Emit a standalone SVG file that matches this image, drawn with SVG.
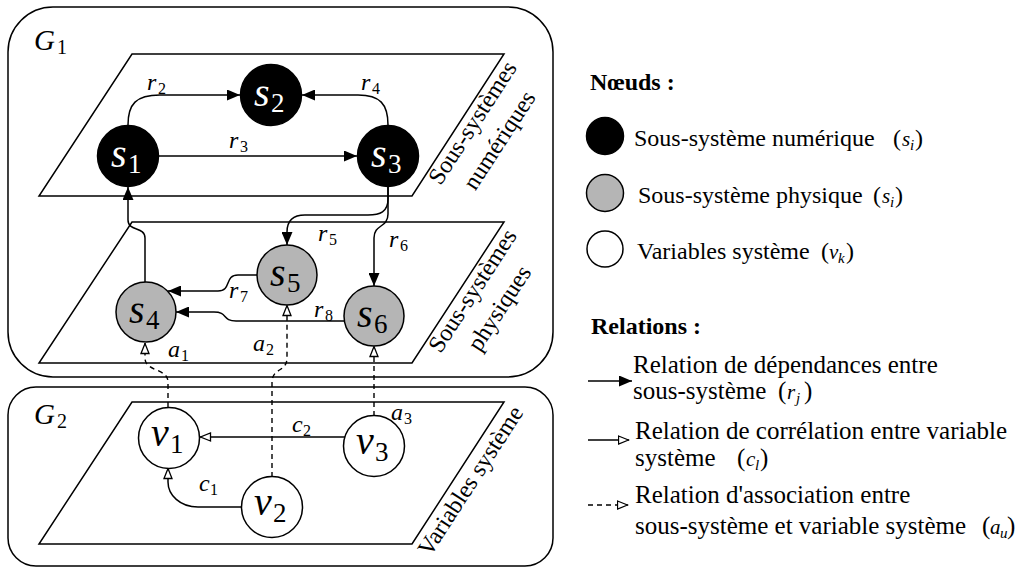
<svg xmlns="http://www.w3.org/2000/svg" width="1020" height="569" viewBox="0 0 1020 569">
<style>
.bx{fill:none;stroke:#000;stroke-width:1.5}
.pl{fill:none;stroke:#000;stroke-width:1.5}
.ln{fill:none;stroke:#000;stroke-width:1.5}
.ds{fill:none;stroke:#000;stroke-width:1.4;stroke-dasharray:5 4}
.num{fill:#000;stroke:#000;stroke-width:1.5}
.phy{fill:#b5b5b5;stroke:#000;stroke-width:1.5}
.var{fill:#fff;stroke:#000;stroke-width:1.5}
text{font-family:"Liberation Serif",serif;fill:#000}
.nl{font-style:italic;font-size:40px}
.ns{font-style:normal;font-size:27px}
.w{fill:#fff}
.el{font-style:italic;font-size:24px}
.es{font-style:normal;font-size:16px}
.gl{font-style:italic;font-size:29px}
.gs{font-style:normal;font-size:20px}
.pt{font-size:24px}
.hd{font-size:24px;font-weight:bold}
.lg{font-size:24px}
.lr{font-size:25px}
.mi{font-style:italic;font-size:21px}
.ms{font-style:italic;font-size:15px}
</style>
<defs>
<marker id="fa" viewBox="0 0 13 11" refX="13" refY="5.5" markerWidth="13" markerHeight="11" markerUnits="userSpaceOnUse" orient="auto">
<path d="M0,0 L13,5.5 L0,11 z" fill="#000"/>
</marker>
<marker id="oa" viewBox="0 0 12 10" refX="11.5" refY="5" markerWidth="12" markerHeight="10" markerUnits="userSpaceOnUse" orient="auto">
<path d="M1,1 L11,5 L1,9 z" fill="#fff" stroke="#000" stroke-width="1.3"/>
</marker>
</defs>

<g id="G1">
<rect class="bx" x="8" y="7" width="545" height="370" rx="45" ry="45"/>
<text class="gl" x="34" y="50">G<tspan class="gs" x="57" y="54">1</tspan></text>
</g>
<g id="G2">
<rect class="bx" x="8" y="387" width="545" height="179" rx="28" ry="28"/>
<text class="gl" x="34" y="424">G<tspan class="gs" x="57" y="428">2</tspan></text>
</g>

<g id="plane-numeriques">
<polygon class="pl" points="132,54 504,54 412,196 39,196"/>
<text class="pt" text-anchor="middle" transform="translate(479,127) rotate(-57)"><tspan x="0" y="0">Sous-systèmes</tspan><tspan x="0" y="32">numériques</tspan></text>
</g>
<g id="plane-physiques">
<polygon class="pl" points="132,222 504,222 412,363 39,363"/>
<text class="pt" text-anchor="middle" transform="translate(479,295) rotate(-57)"><tspan x="0" y="0">Sous-systèmes</tspan><tspan x="0" y="32">physiques</tspan></text>
</g>
<g id="plane-variables">
<polygon class="pl" points="132,402 504,402 412,544 39,544"/>
<text class="pt" text-anchor="middle" transform="translate(477,485) rotate(-57)">Variables système</text>
</g>

<g id="connectors">
<path id="r1" class="ln" d="M145,282 L145,238 C145,226 128,232 128,220 L128,187" marker-end="url(#fa)"/>
<path id="r2" class="ln" d="M128,125 C128,104 136,95 160,95 L240,95" marker-end="url(#fa)"/>
<path id="r3" class="ln" d="M159,156 L357,156" marker-end="url(#fa)"/>
<path id="r4" class="ln" d="M388,125 C388,104 380,95 358,95 L302,95" marker-end="url(#fa)"/>
<path id="r5" class="ln" d="M388,187 L388,199 C388,212 380,215 368,215 L305,215 C293,215 287,220 287,232 L287,245" marker-end="url(#fa)"/>
<path id="r6" class="ln" d="M388,187 L388,214 C388,228 374,224 374,238 L374,286" marker-end="url(#fa)"/>
<path id="r7" class="ln" d="M257,275 L238,275 C224,275 232,291 218,291 L168,291" marker-end="url(#fa)"/>
<path id="r8" class="ln" d="M344,321 L236,321 C222,321 228,312 214,312 L176,312" marker-end="url(#fa)"/>
<path id="a1" class="ds" d="M168,407 L168,382 C168,368 145,372 145,358 L145,343" marker-end="url(#oa)"/>
<path id="a2" class="ds" d="M272,477 L272,382 C272,368 287,372 287,358 L287,305" marker-end="url(#oa)"/>
<path id="a3" class="ds" d="M374,416 L374,346" marker-end="url(#oa)"/>
<path id="c1" class="ln" d="M241,507 L198,507 C180,507 168,495 168,482 L168,468" marker-end="url(#oa)"/>
<path id="c2" class="ln" d="M345,437 L200,437" marker-end="url(#oa)"/>
<text class="el" x="147" y="90">r<tspan class="es" x="158" y="94">2</tspan></text>
<text class="el" x="229" y="148">r<tspan class="es" x="240" y="152">3</tspan></text>
<text class="el" x="361" y="90">r<tspan class="es" x="372" y="94">4</tspan></text>
<text class="el" x="318" y="241">r<tspan class="es" x="329" y="245">5</tspan></text>
<text class="el" x="389" y="247">r<tspan class="es" x="400" y="251">6</tspan></text>
<text class="el" x="229" y="298">r<tspan class="es" x="240" y="302">7</tspan></text>
<text class="el" x="314" y="317">r<tspan class="es" x="325" y="321">8</tspan></text>
<text class="el" x="168" y="357">a<tspan class="es" x="181" y="361">1</tspan></text>
<text class="el" x="253" y="351">a<tspan class="es" x="266" y="355">2</tspan></text>
<text class="el" x="391" y="420">a<tspan class="es" x="404" y="424">3</tspan></text>
<text class="el" x="199" y="491">c<tspan class="es" x="210" y="495">1</tspan></text>
<text class="el" x="292" y="432">c<tspan class="es" x="303" y="436">2</tspan></text>
</g>

<g id="s1"><circle class="num" cx="128" cy="156" r="30.5"/><text class="nl w" x="111" y="167">s<tspan class="ns w" x="128" y="173">1</tspan></text></g>
<g id="s2"><circle class="num" cx="271" cy="95" r="30.5"/><text class="nl w" x="254" y="106">s<tspan class="ns w" x="271" y="112">2</tspan></text></g>
<g id="s3"><circle class="num" cx="388" cy="156" r="30.5"/><text class="nl w" x="371" y="167">s<tspan class="ns w" x="388" y="173">3</tspan></text></g>
<g id="s4"><circle class="phy" cx="146" cy="312" r="30"/><text class="nl" x="129" y="323">s<tspan class="ns" x="146" y="329">4</tspan></text></g>
<g id="s5"><circle class="phy" cx="287" cy="275" r="30"/><text class="nl" x="270" y="286">s<tspan class="ns" x="287" y="292">5</tspan></text></g>
<g id="s6"><circle class="phy" cx="374" cy="316" r="30"/><text class="nl" x="357" y="327">s<tspan class="ns" x="374" y="333">6</tspan></text></g>
<g id="v1"><circle class="var" cx="169" cy="438" r="30.5"/><text class="nl" x="151" y="446">v<tspan class="ns" x="170" y="453">1</tspan></text></g>
<g id="v2"><circle class="var" cx="272" cy="507" r="30.5"/><text class="nl" x="254" y="515">v<tspan class="ns" x="273" y="522">2</tspan></text></g>
<g id="v3"><circle class="var" cx="374" cy="446" r="30.5"/><text class="nl" x="356" y="454">v<tspan class="ns" x="375" y="461">3</tspan></text></g>

<g id="legend">
<text class="hd" x="590" y="90">Nœuds :</text>
<circle class="num" cx="605" cy="136" r="18.5"/>
<text class="lg" x="634" y="146">Sous-système numérique</text>
<text class="lg" x="893" y="146">(<tspan class="mi" x="902">s</tspan><tspan class="ms" x="910" y="150">i</tspan><tspan x="915" y="146">)</tspan></text>
<circle class="phy" cx="605" cy="193" r="18.5"/>
<text class="lg" x="638" y="203">Sous-système physique</text>
<text class="lg" x="873" y="203">(<tspan class="mi" x="882">s</tspan><tspan class="ms" x="890" y="207">i</tspan><tspan x="895" y="203">)</tspan></text>
<circle class="var" cx="605" cy="249" r="18"/>
<text class="lg" x="637" y="259">Variables système</text>
<text class="lg" x="821" y="259">(<tspan class="mi" x="829">v</tspan><tspan class="ms" x="838" y="263">k</tspan><tspan x="846" y="259">)</tspan></text>

<text class="hd" x="591" y="334">Relations :</text>
<path class="ln" d="M588,381 L632,381" marker-end="url(#fa)"/>
<text class="lr" x="633" y="373">Relation de dépendances entre</text>
<text class="lr" x="633" y="399">sous-système <tspan x="778">(</tspan><tspan class="mi" x="787">r</tspan><tspan class="ms" x="796" y="403">j</tspan><tspan x="804" y="399">)</tspan></text>
<path class="ln" d="M588,440 L629,440" marker-end="url(#oa)"/>
<text class="lr" x="635" y="439">Relation de corrélation entre variable</text>
<text class="lr" x="635" y="466">système <tspan x="737">(</tspan><tspan class="mi" x="746">c</tspan><tspan class="ms" x="755" y="470">l</tspan><tspan x="760" y="466">)</tspan></text>
<path class="ds" d="M588,505 L628,505" marker-end="url(#oa)"/>
<text class="lr" x="635" y="503">Relation d'association entre</text>
<text class="lr" x="635" y="534">sous-système et variable système <tspan x="982">(</tspan><tspan class="mi" x="990">a</tspan><tspan class="ms" x="1000" y="538">u</tspan><tspan x="1007" y="534">)</tspan></text>
</g>
</svg>
